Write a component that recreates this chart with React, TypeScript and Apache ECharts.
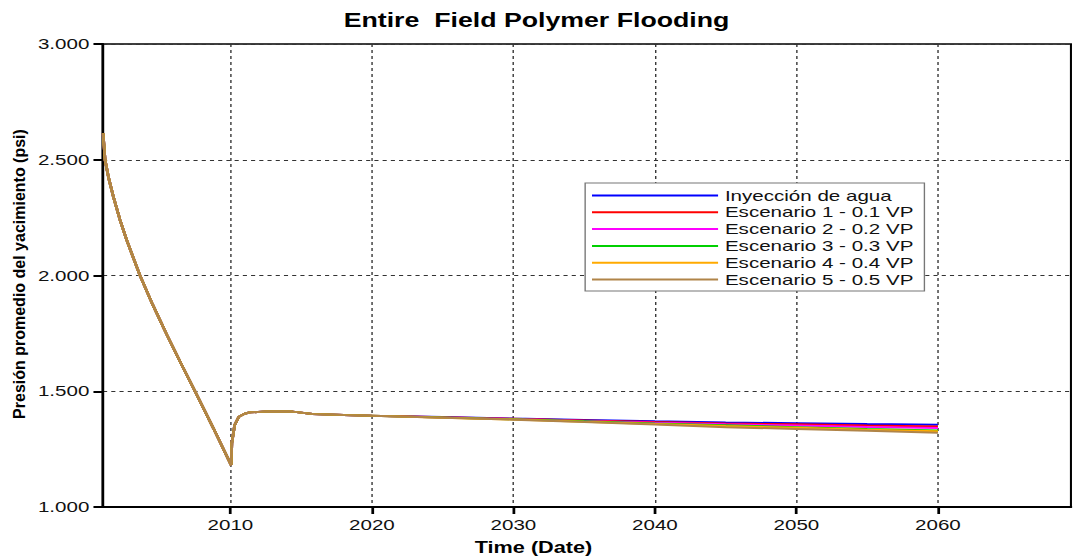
import React, { useEffect, useRef } from "react";
import * as echarts from "echarts";

// ---- data ----
const seriesNames = [
  "Inyección de agua",
  "Escenario 1 - 0.1 VP",
  "Escenario 2 - 0.2 VP",
  "Escenario 3 - 0.3 VP",
  "Escenario 4 - 0.4 VP",
  "Escenario 5 - 0.5 VP",
];
const seriesColors = ["#0000ff", "#ff0000", "#ff00ff", "#00d000", "#ffaa00", "#b08448"];

// shared history (all scenarios identical until ~2020)
const historyYears = [
  2001.0, 2001.07, 2001.14, 2001.4, 2001.73, 2002.2, 2002.67, 2003.0, 2003.61, 2004.5, 2005.5,
  2006.5, 2007.5, 2008.8, 2010.05, 2010.1, 2010.3, 2010.6, 2011.0, 2011.4, 2012.5, 2014.4,
  2015.8, 2018.0, 2020.0,
];
const historyValues = [
  2614, 2560, 2500, 2420, 2340, 2240, 2153, 2099, 2000, 1875, 1745,
  1621, 1500, 1340, 1181, 1276, 1354, 1390, 1403, 1409, 1412, 1412,
  1402, 1397, 1394,
];

// forecast per scenario
const forecastYears = [2022, 2025, 2030, 2035, 2040, 2045, 2050, 2055, 2060];
const forecastInyeccion = [1392, 1389, 1382, 1376, 1370, 1365, 1362, 1358, 1355];
const forecastEsc1 = [1392, 1388, 1381, 1374, 1367, 1361, 1357, 1352, 1348];
const forecastEsc2 = [1391, 1387, 1380, 1372, 1364, 1357, 1352, 1346, 1341];
const forecastEsc3 = [1391, 1387, 1379, 1370, 1361, 1353, 1345, 1337, 1330];
const forecastEsc4 = [1391, 1386, 1378, 1368, 1359, 1350, 1342, 1334, 1327];
const forecastEsc5 = [1391, 1386, 1377, 1367, 1356, 1345, 1337, 1329, 1321];
const forecasts = [forecastInyeccion, forecastEsc1, forecastEsc2, forecastEsc3, forecastEsc4, forecastEsc5];

const xTickYears = [2010, 2020, 2030, 2040, 2050, 2060];

const TITLE = "Entire  Field Polymer Flooding";
const X_NAME = "Time (Date)";
const Y_NAME = "Presión promedio del yacimiento (psi)";

const STRETCH = 1073 / 783;
const FONT = "'Liberation Sans', Arial, Helvetica, sans-serif";

export default function App() {
  const ref = useRef<HTMLDivElement>(null);

  useEffect(() => {
    if (!ref.current) return;
    const chart = echarts.init(ref.current, undefined, { renderer: "svg" });

    const series = seriesNames.map((name, i) => {
      const data: number[][] = historyYears.map((y, k) => [y, historyValues[k]]);
      forecastYears.forEach((y, k) => data.push([y, forecasts[i][k]]));
      return {
        name,
        type: "line",
        data,
        symbol: "none",
        showSymbol: false,
        lineStyle: { color: seriesColors[i], width: 2 },
        itemStyle: { color: seriesColors[i] },
        z: 2 + i,
      };
    });

    chart.setOption({
      animation: false,
      backgroundColor: "#ffffff",
      title: {
        text: TITLE,
        left: "center",
        top: 10,
        padding: 0,
        textStyle: { fontFamily: FONT, fontSize: 19.5, fontWeight: "bold", color: "#000" },
      },
      grid: {
        left: 75.2,
        right: 1.5,
        top: 44,
        bottom: 49,
        show: true,
        borderColor: "#000",
        borderWidth: 1.5,
        backgroundColor: "transparent",
      },
      legend: {
        orient: "vertical",
        left: 427,
        top: 183,
        icon: "path://M0,0L92,0L92,2L0,2Z",
        itemWidth: 92,
        itemHeight: 15,
        itemGap: 1.8,
        padding: [5, 8, 4, 5],
        backgroundColor: "#ffffff",
        borderColor: "#777",
        borderWidth: 1,
        data: seriesNames,
        textStyle: { fontFamily: FONT, fontSize: 15, color: "#111", lineHeight: 15 },
      },
      xAxis: {
        type: "value",
        min: 2001,
        max: 2069.4,
        axisLine: { show: true, lineStyle: { color: "#000", width: 2 } },
        axisTick: {
          show: true,
          length: 7,
          lineStyle: { color: "#000", width: 2 },
          customValues: xTickYears,
        },
        axisLabel: {
          customValues: xTickYears,
          margin: 10,
          fontFamily: FONT,
          fontSize: 15,
          color: "#111",
          formatter: (v: number) => String(Math.round(v)),
        },
        splitLine: { show: true, lineStyle: { color: "#333", type: [3, 3], width: 1 } },
      },
      yAxis: {
        type: "value",
        min: 1000,
        max: 3000,
        interval: 500,
        axisLine: { show: true, lineStyle: { color: "#000", width: 2 } },
        axisTick: { show: true, length: 7, lineStyle: { color: "#000", width: 2 } },
        axisLabel: {
          margin: 10,
          fontFamily: FONT,
          fontSize: 15,
          color: "#111",
          formatter: (v: number) => (v / 1000).toFixed(3),
        },
        splitLine: { show: true, lineStyle: { color: "#333", type: [3, 3], width: 1 } },
      },
      graphic: [
        {
          type: "text",
          x: 389.3,
          y: 548,
          style: {
            text: X_NAME,
            font: `bold 15.8px ${FONT}`,
            fill: "#000",
            textAlign: "center",
            textVerticalAlign: "middle",
          },
        },
        {
          type: "text",
          x: 14,
          y: 274,
          rotation: Math.PI / 2,
          scaleY: 1 / STRETCH,
          style: {
            text: Y_NAME,
            font: `bold 16px ${FONT}`,
            fill: "#000",
            textAlign: "center",
            textVerticalAlign: "middle",
          },
        },
      ],
      series,
    });

    return () => chart.dispose();
  }, []);

  return (
    <div
      ref={ref}
      style={{
        position: "absolute",
        left: 0,
        top: 0,
        width: 783,
        height: 556,
        transform: `scaleX(${STRETCH})`,
        transformOrigin: "0 0",
      }}
    />
  );
}
